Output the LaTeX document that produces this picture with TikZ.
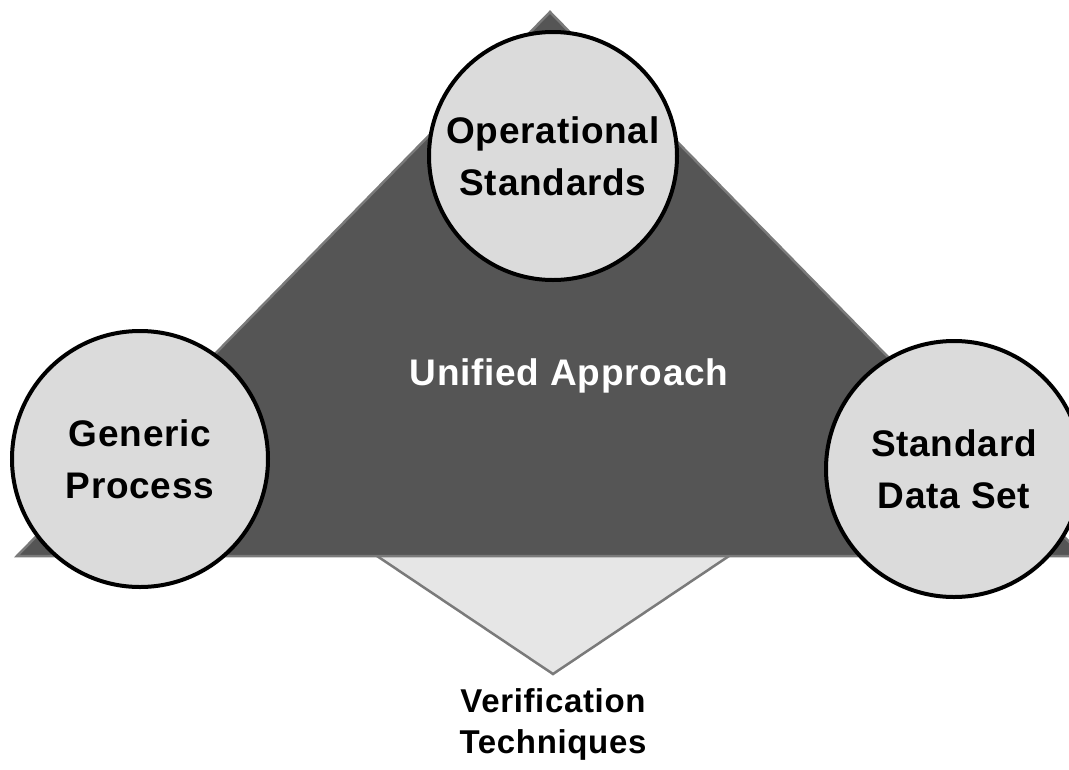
\documentclass[tikz,border=0pt]{standalone}
\usepackage{fontspec}
\setmainfont[LetterSpace=2]{Liberation Sans}
\definecolor{tridark}{HTML}{555555}
\definecolor{triedge}{HTML}{7A7A7A}
\definecolor{circfill}{HTML}{DBDBDB}
\definecolor{diafill}{HTML}{E6E6E6}
\begin{document}
\begin{tikzpicture}[x=1pt,y=-1pt,
  bubble/.style={circle, draw=black, line width=4pt, fill=circfill, inner sep=0pt,
    align=center, font=\fontsize{37}{52}\selectfont\bfseries},
  lbl/.style={align=center, font=\fontsize{33}{41}\selectfont\bfseries}]
\useasboundingbox (0,0) rectangle (1069,769);
% verification diamond (upper half hidden by the triangle)
\draw[fill=diafill, draw=triedge, line width=2.5pt, line join=miter]
  (377,556) -- (553,674) -- (729,556) -- (553,438) -- cycle;
% main triangle
\draw[fill=tridark, draw=triedge, line width=2.5pt, line join=miter]
  (17,556) -- (550,12) -- (1083,556) -- cycle;
\node[text=white, font=\fontsize{37}{44}\selectfont\bfseries] (ua) at (569,376) {Unified Approach};
% circles
\node[bubble, minimum size=248pt] (ops) at (553,156) {Operational\\Standards};
\node[bubble, minimum size=256pt] (gen) at (140,459) {Generic\\Process};
\node[bubble, minimum size=256pt] (sds) at (954,469) {Standard\\Data Set};
\node[lbl] (ver) at (553,724) {Verification\\Techniques};
\end{tikzpicture}
\end{document}
